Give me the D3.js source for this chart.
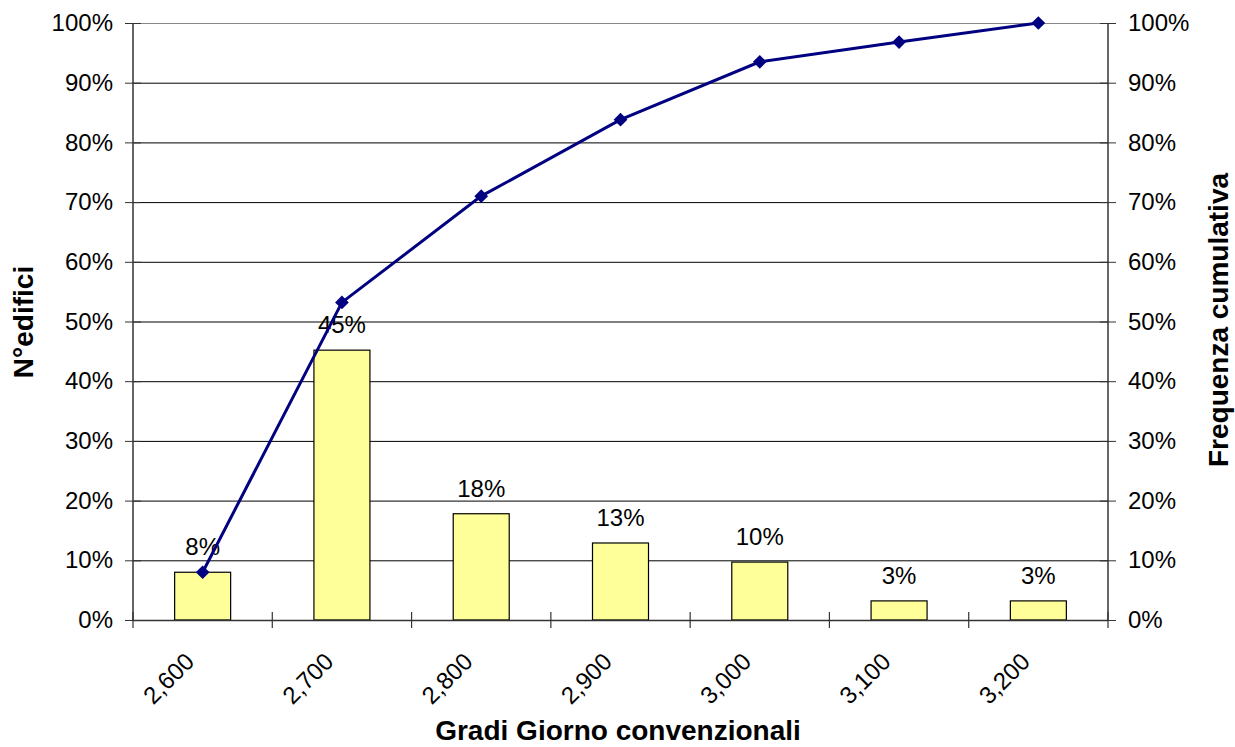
<!DOCTYPE html>
<html><head><meta charset="utf-8">
<script src="https://cdn.jsdelivr.net/npm/d3@7"></script>
<style>body{margin:0;background:#fff;}svg text{font-family:"Liberation Sans",Arial,sans-serif;}</style>
</head><body>
<svg id="c" width="1235" height="747"></svg>
<script>
const categories = ["2,600","2,700","2,800","2,900","3,000","3,100","3,200"];
const barValues = [8.0, 45.2, 17.8, 12.9, 9.7, 3.2, 3.2];
const barLabels = ["8%","45%","18%","13%","10%","3%","3%"];
const cumValues = [8.0, 53.2, 71.0, 83.8, 93.5, 96.8, 100.0];
const yTicks = [0,10,20,30,40,50,60,70,80,90,100];

const svg = d3.select("#c");
const L = 133, R = 1108, T = 23, B = 620;
const x = d3.scaleBand().domain(categories).range([L, R]).paddingInner(0.6).paddingOuter(0.3);
const xc = d => x(d) + x.bandwidth()/2;
const y = d3.scaleLinear().domain([0,100]).range([B, T]);

// gridlines
svg.append("g").selectAll("line").data(yTicks).join("line")
  .attr("x1", L).attr("x2", R).attr("y1", d=>y(d)+0.5).attr("y2", d=>y(d)+0.5)
  .attr("stroke", d => d===100 ? "#888" : "#000").attr("stroke-width", 1);

// bars
svg.append("g").selectAll("rect").data(barValues).join("rect")
  .attr("x", (d,i)=>xc(categories[i]) - 28).attr("width", 56)
  .attr("y", d=>y(d)).attr("height", d=>B - y(d))
  .attr("fill", "#FFFF99").attr("stroke", "#000").attr("stroke-width", 1.2);

// bar labels
svg.append("g").selectAll("text").data(barValues).join("text")
  .attr("x", (d,i)=>xc(categories[i])).attr("y", d=>y(d) - 17)
  .attr("text-anchor","middle").attr("font-size", 24).attr("fill","#000")
  .text((d,i)=>barLabels[i]);

// axes
const yAxisL = d3.axisLeft(y).tickValues(yTicks).tickFormat(d=>d+"%").tickSize(8).tickPadding(12);
const gL = svg.append("g").attr("transform",`translate(${L},0)`).call(yAxisL);
const yAxisR = d3.axisRight(y).tickValues(yTicks).tickFormat(d=>d+"%").tickSize(8).tickPadding(12);
const gR = svg.append("g").attr("transform",`translate(${R},0)`).call(yAxisR);
[gL,gR].forEach(g=>{
  g.select(".domain").attr("stroke","#333").attr("stroke-width",1.5).attr("d", `M0,${T}V${B}`);
  g.selectAll("text").attr("font-size",24).attr("fill","#000").attr("font-family","Liberation Sans, Arial, sans-serif");
});
gL.selectAll(".tick line").attr("stroke","#333").attr("x1", 8).attr("x2", -8);
gR.selectAll(".tick line").attr("stroke","#333").attr("x1", -8).attr("x2", 8);

// x axis baseline and ticks between categories
svg.append("line").attr("x1",L).attr("x2",R).attr("y1",B+0.5).attr("y2",B+0.5).attr("stroke","#333").attr("stroke-width",1.5);
const bounds = d3.range(categories.length+1).map(i => L + (R-L)*i/categories.length);
svg.append("g").selectAll("line").data(bounds).join("line")
  .attr("x1", d=>d).attr("x2", d=>d).attr("y1", B-8).attr("y2", B+8)
  .attr("stroke","#333").attr("stroke-width",1.2);

// x tick labels rotated
svg.append("g").selectAll("text").data(categories).join("text")
  .attr("transform", d=>`translate(${xc(d)-7},${B+43}) rotate(-45)`)
  .attr("text-anchor","end").attr("font-size",24).attr("fill","#000")
  .text(d=>d);

// cumulative line
const line = d3.line().x((d,i)=>xc(categories[i])).y(d=>y(d));
svg.append("path").datum(cumValues).attr("d", line)
  .attr("fill","none").attr("stroke","#000080").attr("stroke-width",3);
svg.append("g").selectAll("path").data(cumValues).join("path")
  .attr("d", d3.symbol().type(d3.symbolDiamond2).size(120))
  .attr("transform", (d,i)=>`translate(${xc(categories[i])},${y(d)})`)
  .attr("fill","#000080");

// titles
svg.append("text").attr("x", 618).attr("y", 740).attr("text-anchor","middle")
  .attr("font-size",28).attr("font-weight","bold").text("Gradi Giorno convenzionali");
svg.append("text").attr("transform",`translate(33,322) rotate(-90)`).attr("text-anchor","middle")
  .attr("font-size",28).attr("font-weight","bold").text("N°edifici");
svg.append("text").attr("transform",`translate(1228,320) rotate(-90)`).attr("text-anchor","middle")
  .attr("font-size",28).attr("font-weight","bold").text("Frequenza cumulativa");
</script>
</body></html>
